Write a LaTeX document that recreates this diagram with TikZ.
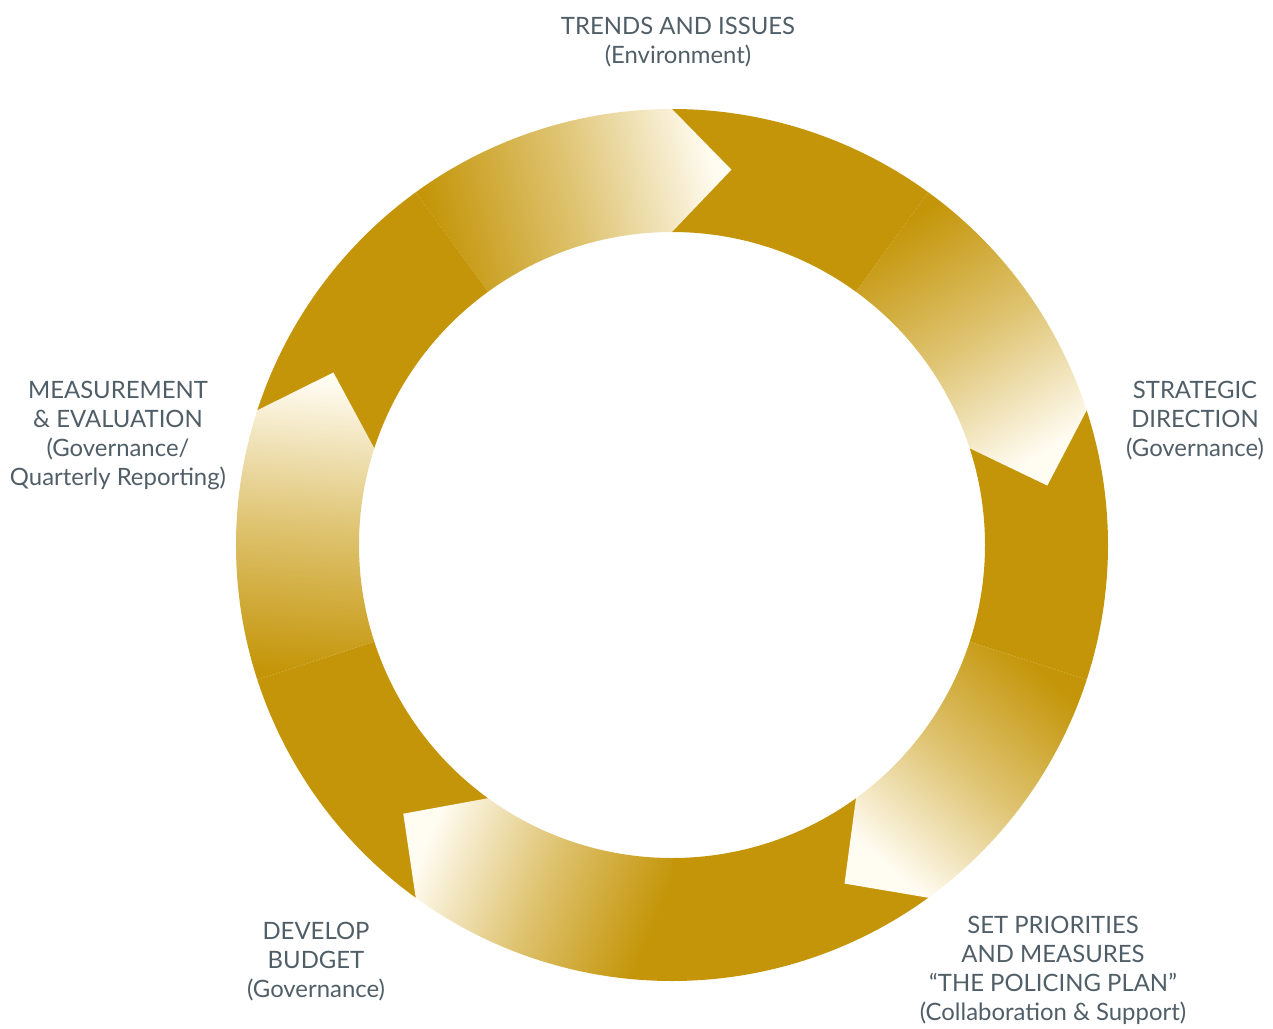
\documentclass[tikz,border=0pt]{standalone}
\usepackage{fontspec}
\setmainfont{Lato}
\usepackage{xcolor}
\usetikzlibrary{calc,
	positioning}
\definecolor{ringgold}{RGB}{196,149,8}
\definecolor{ringcream}{RGB}{255,252,242}
\definecolor{labelgrey}{RGB}{80,94,104}
\tikzset{steplabel/.style={align=center,text=labelgrey,inner sep=0pt,font=\fontsize{23.9}{29}\selectfont}}

\begin{document}
\begin{tikzpicture}[x=1pt,y=1pt]
				\useasboundingbox (-672,-483) rectangle (601,545);
				\foreach \k in {0,...,4} {
					\pgfmathsetmacro\a{126-72*\k}
					\pgfmathsetmacro\t{-76.5-72*\k}
					\fill[ringgold] (\a-36:436) arc[start angle=\a-36, end angle=\a-72, radius=436] -- (\a-72:313) arc[start angle=\a-72, end angle=\a-36, radius=313] -- cycle;
					\shade[top color=ringcream, bottom color=ringgold, middle color=ringgold!55!ringcream, shading angle=\t] (\a:436) arc[start angle=\a, end angle=\a-36, radius=436] -- (\a-45:380) -- (\a-36:313) arc[start angle=\a-36, end angle=\a, radius=313] -- cycle;
				}
				\node[steplabel] (trends) at (6,503) {TRENDS AND ISSUES\\(Environment)};
				\node[steplabel] (strategic) at (523,124) {STRATEGIC\\DIRECTION\\(Governance)};
				\node[steplabel] (priorities) at (381,-425.5) {SET PRIORITIES\\AND MEASURES\\“THE POLICING PLAN”\\(Collaboration \& Support)};
				\node[steplabel] (budget) at (-356,-417) {DEVELOP\\BUDGET\\(Governance)};
				\node[steplabel] (measurement) at (-554,109.5) {MEASUREMENT\\\& EVALUATION\\(Governance/\\Quarterly Reporting)};
			\end{tikzpicture}
\end{document}
